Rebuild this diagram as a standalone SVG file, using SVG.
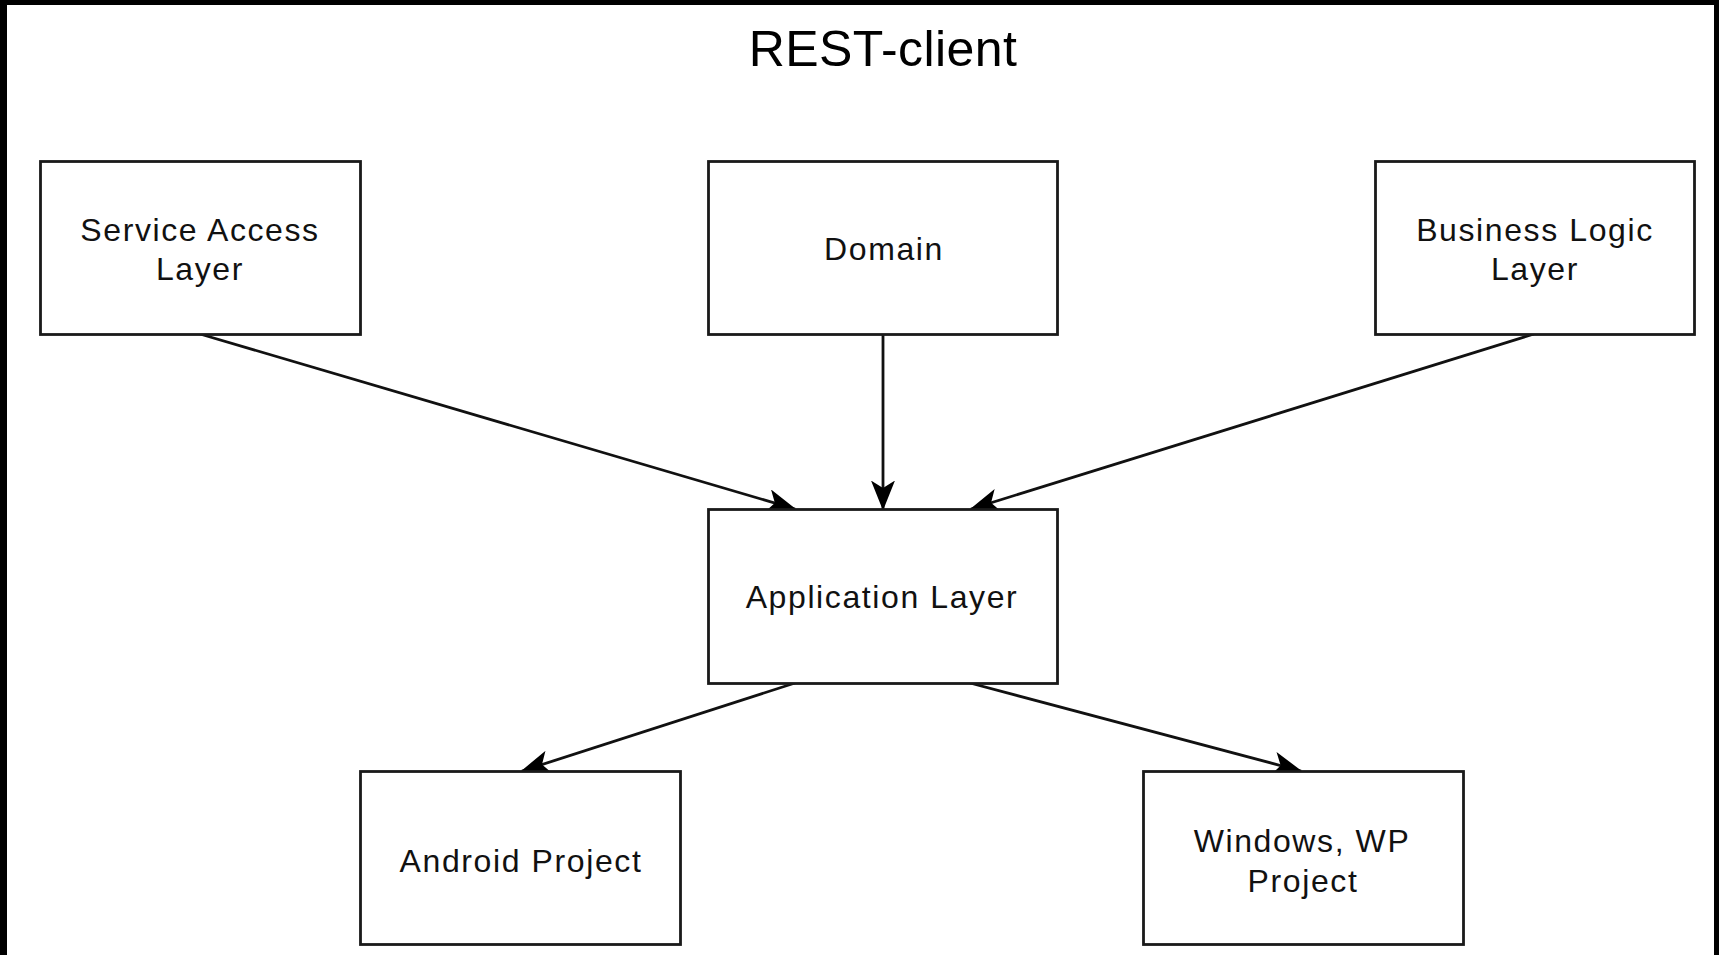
<svg xmlns="http://www.w3.org/2000/svg" width="1719" height="955" viewBox="0 0 1719 955">
<style>
.node rect{fill:#fff;stroke:#1a1a1a;stroke-width:2.8}
.lbl{font-family:"Liberation Sans",Arial,sans-serif;font-size:32px;letter-spacing:1.6px;fill:#111;text-anchor:middle}
.title{font-family:"Liberation Sans",Arial,sans-serif;font-size:50px;letter-spacing:0.4px;fill:#000;text-anchor:middle}
.edge{stroke:#111;stroke-width:2.8;fill:none}
</style>
<defs>
<marker id="arr" markerUnits="userSpaceOnUse" viewBox="0 0 20 16" refX="19" refY="8" markerWidth="30" markerHeight="24" orient="auto">
<path d="M0,0 L20,8 L0,16 L5,8 Z" fill="#000"/>
</marker>
</defs>
<rect x="0" y="0" width="1719" height="955" fill="#fff"/>
<rect x="0" y="0" width="1719" height="5" fill="#000"/>
<rect x="0" y="0" width="7" height="955" fill="#000"/>
<rect x="1714" y="0" width="5" height="955" fill="#000"/>
<text class="title" x="883" y="66">REST-client</text>
<g id="connectors">
<line class="edge" x1="200" y1="334" x2="795" y2="509" marker-end="url(#arr)"/>
<line class="edge" x1="883" y1="334" x2="883" y2="509" marker-end="url(#arr)"/>
<line class="edge" x1="1534" y1="334" x2="971" y2="509" marker-end="url(#arr)"/>
<line class="edge" x1="795" y1="683" x2="522" y2="771" marker-end="url(#arr)"/>
<line class="edge" x1="970" y1="683" x2="1301" y2="771" marker-end="url(#arr)"/>
</g>
<g id="service-access" class="node">
<rect x="40.5" y="161.5" width="320" height="173"/>
<text class="lbl" x="200" y="240.5">Service Access</text>
<text class="lbl" x="200" y="280">Layer</text>
</g>
<g id="domain" class="node">
<rect x="708.5" y="161.5" width="349" height="173"/>
<text class="lbl" x="884" y="260">Domain</text>
</g>
<g id="business-logic" class="node">
<rect x="1375.5" y="161.5" width="319" height="173"/>
<text class="lbl" x="1535" y="240.5">Business Logic</text>
<text class="lbl" x="1535" y="280">Layer</text>
</g>
<g id="application" class="node">
<rect x="708.5" y="509.5" width="349" height="174"/>
<text class="lbl" x="882" y="608">Application Layer</text>
</g>
<g id="android" class="node">
<rect x="360.5" y="771.5" width="320" height="173"/>
<text class="lbl" x="521" y="871.5">Android Project</text>
</g>
<g id="windows" class="node">
<rect x="1143.5" y="771.5" width="320" height="173"/>
<text class="lbl" x="1302" y="851.5">Windows, WP</text>
<text class="lbl" x="1303" y="891.5">Project</text>
</g>
</svg>
